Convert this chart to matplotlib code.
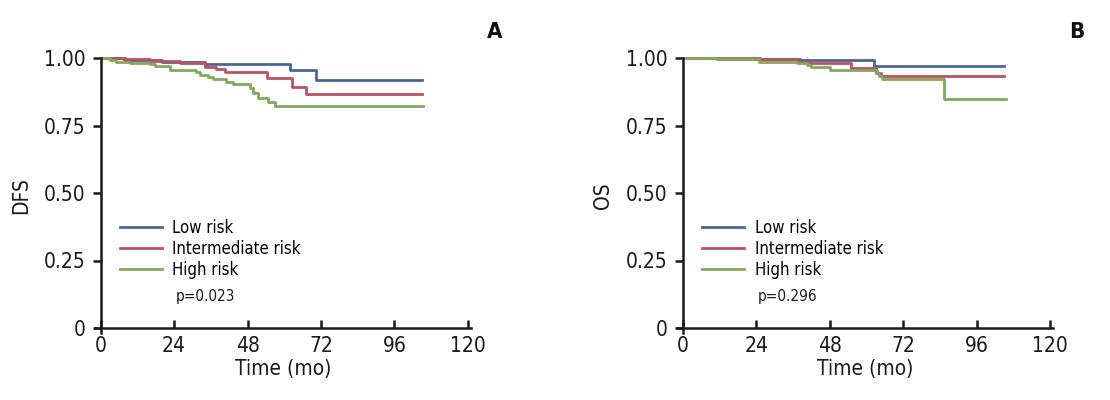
import matplotlib
matplotlib.use("Agg")
import matplotlib.pyplot as plt

plt.rcParams['font.family'] = ['DejaVu Sans']
plt.rcParams['font.stretch'] = 'condensed'

groups = ["Low risk", "Intermediate risk", "High risk"]
colors = ["#4A6598", "#BA5262", "#82A85A"]

# panel A: disease-free survival (step times in months, survival after step)
dfs_low_t = [0, 8, 20, 34, 62, 70.5, 105]
dfs_low_s = [1.0, 0.992, 0.986, 0.977, 0.956, 0.92, 0.92]
dfs_mid_t = [0, 7.3, 16, 25.8, 34, 37.8, 40.5, 54.2, 62.5, 67.2, 105]
dfs_mid_s = [1.0, 0.995, 0.99, 0.983, 0.968, 0.958, 0.947, 0.925, 0.894, 0.867, 0.867]
dfs_high_t = [0, 2.9, 5.1, 9.5, 16, 17.7, 22.6, 31.3, 32.4, 35.1, 36.7, 41.1,
              43.3, 48.7, 49.8, 51.5, 54.7, 56.9, 105.4]
dfs_high_s = [1.0, 0.993, 0.986, 0.98, 0.976, 0.97, 0.956, 0.949, 0.937, 0.931,
              0.921, 0.912, 0.902, 0.888, 0.869, 0.851, 0.838, 0.822, 0.822]

# panel B: overall survival
os_low_t = [0, 11, 38.4, 62.4, 105]
os_low_s = [1.0, 0.997, 0.993, 0.97, 0.97]
os_mid_t = [0, 25.2, 37.3, 41.5, 54.8, 63, 64.6, 105]
os_mid_s = [1.0, 0.995, 0.985, 0.98, 0.964, 0.943, 0.933, 0.933]
os_high_t = [0, 11, 24.7, 37.3, 40.6, 41.7, 48.2, 63.5, 64.2, 65.1, 85.3, 105.5]
os_high_s = [1.0, 0.995, 0.986, 0.983, 0.974, 0.966, 0.954, 0.944, 0.932, 0.922, 0.847, 0.847]

panels = [
    ("A", "DFS", "p=0.023", [(dfs_low_t, dfs_low_s), (dfs_mid_t, dfs_mid_s), (dfs_high_t, dfs_high_s)]),
    ("B", "OS", "p=0.296", [(os_low_t, os_low_s), (os_mid_t, os_mid_s), (os_high_t, os_high_s)]),
]
xticks = [0, 24, 48, 72, 96, 120]
yticks = [0, 0.25, 0.5, 0.75, 1.0]
ytick_labels = ["0", "0.25", "0.50", "0.75", "1.00"]

fig = plt.figure(figsize=(11.1, 4.0), dpi=100)
lefts = [0.0852, 0.6098]

for left, (letter, ylab, ptext, curves) in zip(lefts, panels):
    ax = fig.add_axes([left, 0.1665, 0.339, 0.6885])
    for (t, s), c, name in zip(curves, colors, groups):
        ax.step(t, s, where="post", color=c, lw=2, label=name, clip_on=False)
    ax.set_xlim(-2, 121)
    ax.set_ylim(-0.02, 1.0)
    ax.spines["left"].set_position(("data", 0))
    ax.spines["bottom"].set_position(("data", 0))
    ax.spines["left"].set_bounds(-0.02, 1.0)
    for sp in ["top", "right"]:
        ax.spines[sp].set_visible(False)
    for sp in ["left", "bottom"]:
        ax.spines[sp].set_linewidth(1.8)
        ax.spines[sp].set_color("#1a1a1a")
    ax.set_xticks(xticks)
    ax.set_yticks(yticks)
    ax.set_yticklabels(ytick_labels)
    ax.tick_params(axis="x", direction="in", length=6, width=1.8, pad=6,
                   labelsize=15, colors="#1a1a1a")
    ax.tick_params(axis="y", direction="out", length=6, width=1.8, pad=5,
                   labelsize=15, colors="#1a1a1a")
    ax.set_xlabel("Time (mo)", fontsize=15, labelpad=2, color="#1a1a1a")
    ax.set_ylabel(ylab, fontsize=15, labelpad=9, color="#1a1a1a")
    ax.legend(loc="upper left", bbox_to_anchor=(0.0675, 0.416), frameon=False,
              fontsize=12, handlelength=2.5, handletextpad=0.65,
              borderaxespad=0, borderpad=0, labelspacing=0.17)
    ax.text(24.5, 0.115, ptext, fontsize=11, ha="left", va="center", color="#1a1a1a")
    ax.text(1.063, 1.095, letter, transform=ax.transAxes, fontsize=16,
            fontweight="bold", ha="center", va="center", color="#111111")

fig.savefig("out.png", dpi=100)
